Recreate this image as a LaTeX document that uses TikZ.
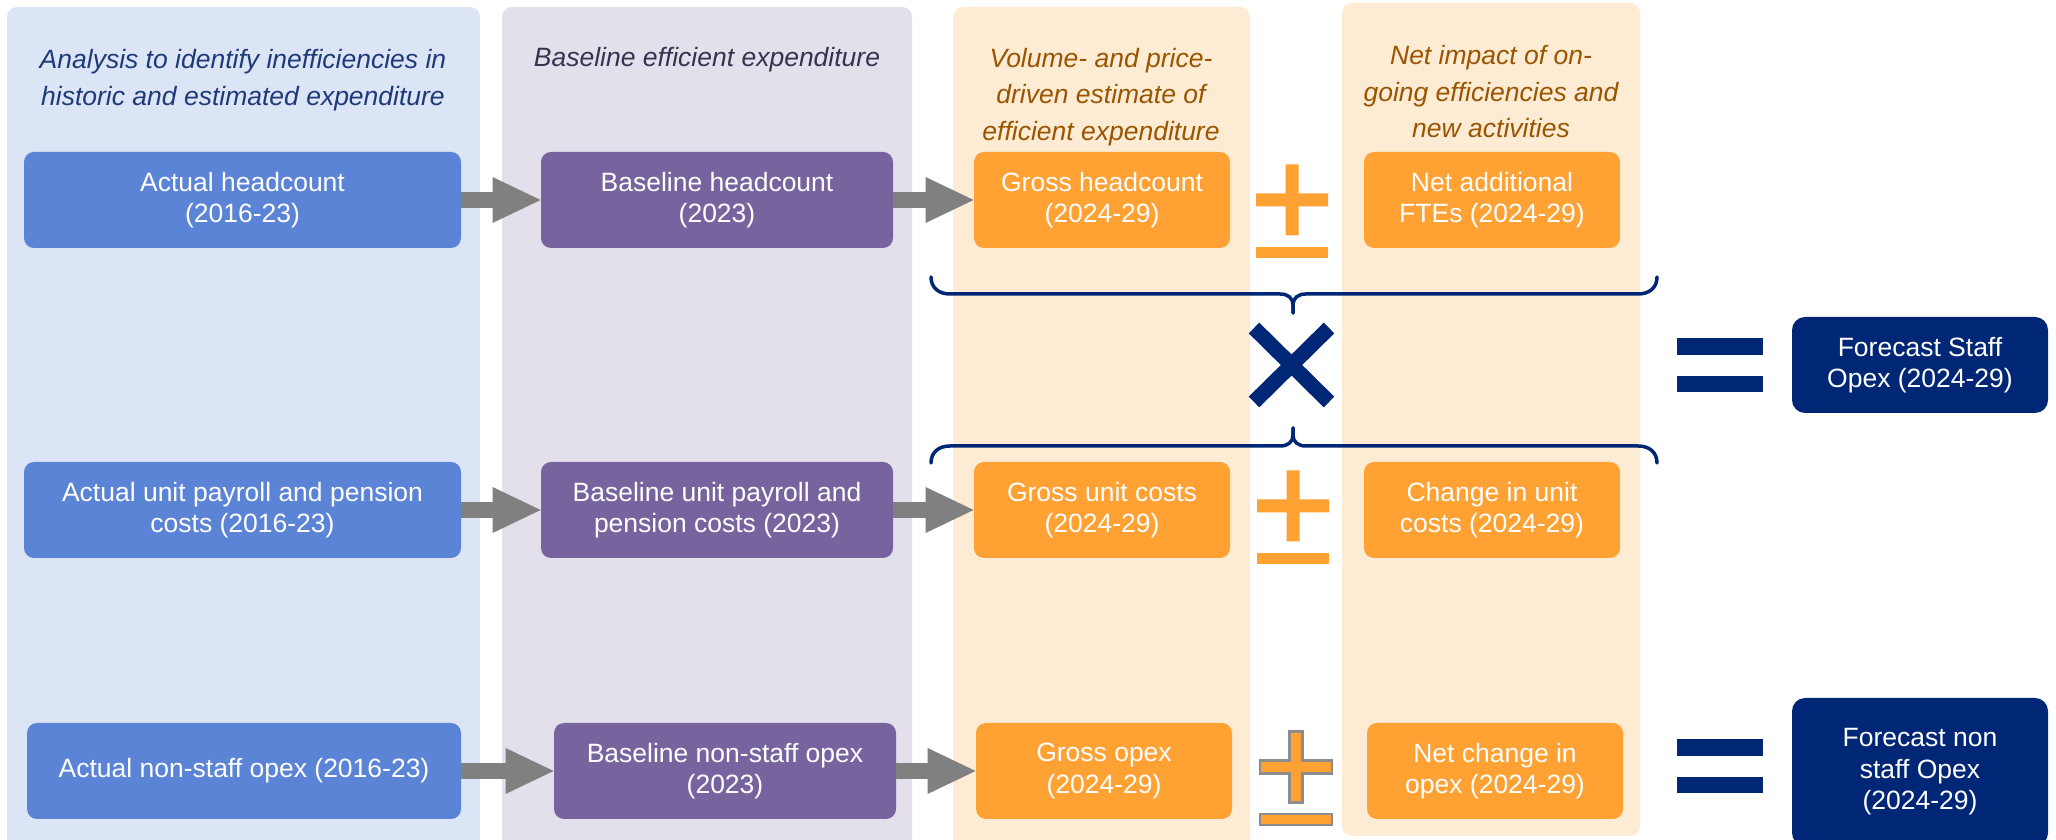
\documentclass[tikz,border=0pt]{standalone}
\usepackage{fontspec}
\setmainfont{Liberation Sans}
\usepackage{xcolor}
\usepackage{tikz}
\usetikzlibrary{calc,arrows.meta}
\definecolor{histbg}{HTML}{DCE5F6}
\definecolor{histbox}{HTML}{5B84D6}
\definecolor{histtxt}{HTML}{1F3A78}
\definecolor{basebg}{HTML}{E3E0EC}
\definecolor{basebox}{HTML}{77649E}
\definecolor{basetxt}{HTML}{3A3150}
\definecolor{fcstbg}{HTML}{FEEBD4}
\definecolor{fcstbox}{HTML}{FFA133}
\definecolor{fcsttxt}{HTML}{9A5500}
\definecolor{navy}{HTML}{002776}
\definecolor{flowgray}{HTML}{808080}
\definecolor{rim}{HTML}{8C8C8C}
\tikzset{
  colbg/.style={rounded corners=5pt},
  colhead/.style={font=\fontsize{13.25}{18.25}\selectfont\itshape, align=center, inner sep=0pt},
  box/.style={rounded corners=5pt, text=white, align=center, minimum height=48pt, inner sep=2pt,
    font=\fontsize{13.25}{15.75}\selectfont},
  histnode/.style={box, fill=histbox, minimum width=218.5pt},
  basenode/.style={box, fill=basebox, minimum width=176pt},
  fcstnode/.style={box, fill=fcstbox, minimum width=128pt},
  totalnode/.style={box, fill=navy, minimum width=128pt, rounded corners=6.5pt},
  flow/.style={draw=flowgray, line width=8pt, -{Triangle[length=24pt, width=23pt, line width=0pt]}},
  brace/.style={draw=navy, line width=1.75pt, line cap=round},
  cross/.style={draw=navy, line width=7.5pt},
  pmbar/.style={fill=fcstbox},
}
% plus over minus, #2 = centre of the plus
\newcommand{\pmsign}[2][]{%
  \begin{scope}[shift={(#2)}]
    \path[pmbar,#1] (-6.5,35.5) -- (6.5,35.5) -- (6.5,6.5) -- (36,6.5) -- (36,-6.5)
      -- (6.5,-6.5) -- (6.5,-35.5) -- (-6.5,-35.5) -- (-6.5,-6.5) -- (-36,-6.5)
      -- (-36,6.5) -- (-6.5,6.5) -- cycle;
    \path[pmbar,#1] (-36,-47) rectangle (36,-58);
  \end{scope}}

\begin{document}
\begin{tikzpicture}[x=0.5pt, y=0.5pt]
  \useasboundingbox (0,0) rectangle (2056,840);
  \fill[histbg, colbg] (7,-10) rectangle (480,833);
  \fill[basebg, colbg] (502,-10) rectangle (912,833);
  \fill[fcstbg, colbg] (953,-10) rectangle (1250,833);
  \fill[fcstbg, colbg] (1342,4) rectangle (1640,837);

  \node[colhead, text=histtxt] (histhead) at (243,760) {Analysis to identify inefficiencies in\\historic and estimated expenditure};
  \node[colhead, text=basetxt] (basehead) at (707,780) {Baseline efficient expenditure};
  \node[colhead, text=fcsttxt] (volhead) at (1101,743) {Volume- and price-\\driven estimate of\\efficient expenditure};
  \node[colhead, text=fcsttxt] (nethead) at (1491,748) {Net impact of on-\\going efficiencies and\\new activities};

  \node[histnode] (acthc) at (242.5,640) {Actual headcount\\(2016-23)};
  \node[basenode] (basehc) at (717,640) {Baseline headcount\\(2023)};
  \node[fcstnode] (grosshc) at (1102,640) {Gross headcount\\(2024-29)};
  \node[fcstnode] (netfte) at (1492,640) {Net additional\\FTEs (2024-29)};

  \node[histnode] (actunit) at (242.5,330) {Actual unit payroll and pension\\costs (2016-23)};
  \node[basenode] (baseunit) at (717,330) {Baseline unit payroll and\\pension costs (2023)};
  \node[fcstnode] (grossunit) at (1102,330) {Gross unit costs\\(2024-29)};
  \node[fcstnode] (chgunit) at (1492,330) {Change in unit\\costs (2024-29)};

  \node[histnode, minimum width=217pt] (actopex) at (244,69) {Actual non-staff opex (2016-23)};
  \node[basenode, minimum width=171pt] (baseopex) at (725,69) {Baseline non-staff opex\\(2023)};
  \node[fcstnode] (grossopex) at (1104,69) {Gross opex\\(2024-29)};
  \node[fcstnode] (netopex) at (1495,69) {Net change in\\opex (2024-29)};

  \node[totalnode] (staffopex) at (1920,475) {Forecast Staff\\Opex (2024-29)};
  \node[totalnode, minimum height=74pt] (nonstaffopex) at (1920,68) {Forecast non\\staff Opex\\(2024-29)};

  \draw[flow] (acthc.east) -- (basehc.west);
  \draw[flow] (basehc.east) -- (grosshc.west);
  \draw[flow] (actunit.east) -- (baseunit.west);
  \draw[flow] (baseunit.east) -- (grossunit.west);
  \draw[flow] (actopex.east) -- (baseopex.west);
  \draw[flow] (baseopex.east) -- (grossopex.west);

  \pmsign{1292,640}
  \pmsign{1293,334}
  \pmsign[draw=rim, line width=1.3pt]{1296,73}

  % braces round the two staff rows
  \draw[brace] (931,563) .. controls (931,552) and (939,546) .. (950,546) -- (1280,546)
    .. controls (1288,546) and (1293,542) .. (1293,535) -- (1293,527);
  \draw[brace] (1293,527) -- (1293,535) .. controls (1293,542) and (1298,546) .. (1306,546)
    -- (1638,546) .. controls (1649,546) and (1657,552) .. (1657,563);
  \draw[brace] (931,377) .. controls (931,388) and (939,394) .. (950,394) -- (1280,394)
    .. controls (1288,394) and (1293,398) .. (1293,405) -- (1293,412);
  \draw[brace] (1293,412) -- (1293,405) .. controls (1293,398) and (1298,394) .. (1306,394)
    -- (1638,394) .. controls (1649,394) and (1657,388) .. (1657,377);

  \draw[cross] (1254,512) -- (1329,438);
  \draw[cross] (1254,438) -- (1329,512);

  \fill[navy] (1677,485) rectangle (1763,502);
  \fill[navy] (1677,448) rectangle (1763,464);
  \fill[navy] (1677,84) rectangle (1763,101);
  \fill[navy] (1677,47) rectangle (1763,63);
\end{tikzpicture}
\end{document}
